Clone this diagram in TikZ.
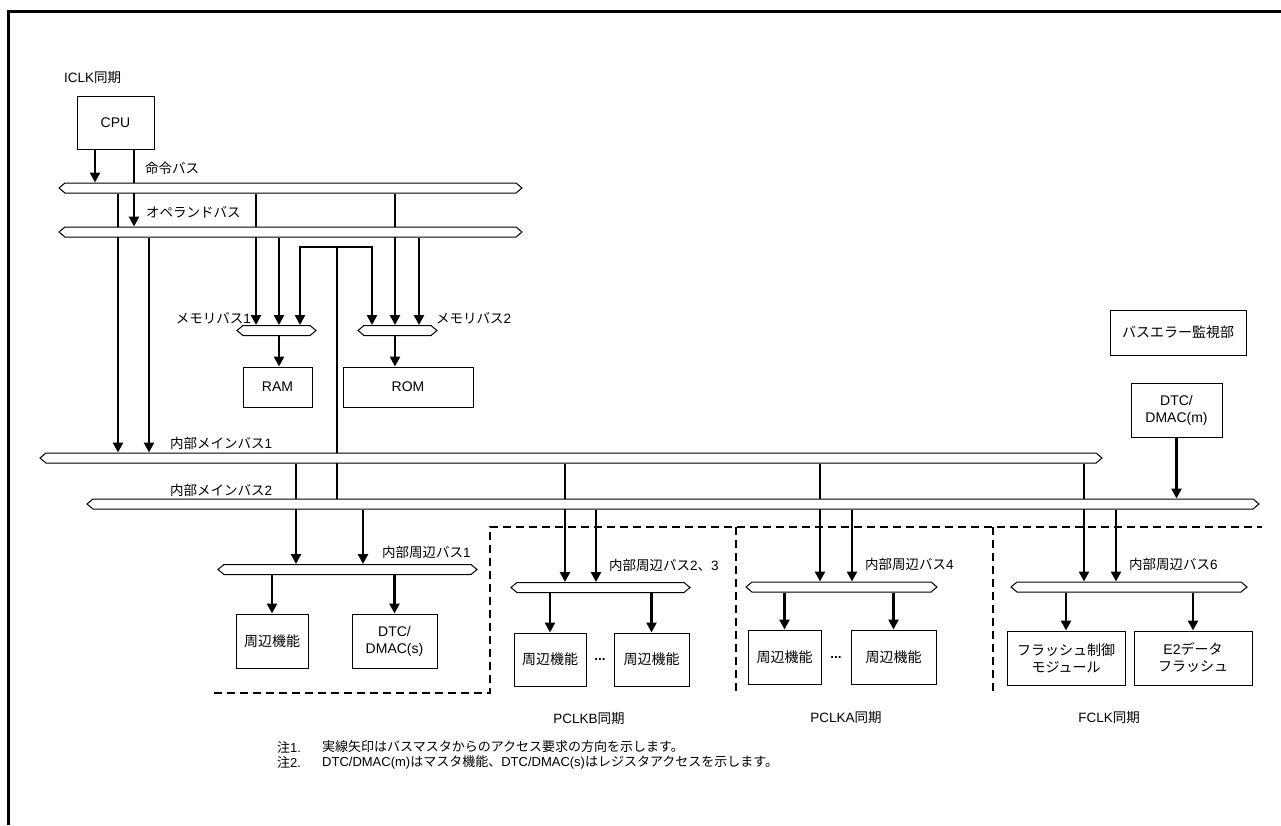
\documentclass[tikz,border=0pt]{standalone}
\usepackage{fontspec}
\setmainfont{Liberation Sans}
\newfontfamily\jpfont{Noto Sans CJK JP}
\newcommand{\ja}[1]{{\jpfont #1}}
\usetikzlibrary{arrows.meta, shapes.symbols}
\pgfdeclarelayer{back}
\pgfsetlayers{back,main}

\begin{document}
\begin{tikzpicture}[
        x=1pt, y=-1pt,
        box/.style={rectangle, draw, line width=1pt, fill=white, inner sep=0pt,
                    align=center, font=\fontsize{14}{17}\selectfont},
        bus/.style={signal, signal to=east and west, signal pointer angle=80,
                    draw, line width=1pt, fill=white, inner sep=0pt, minimum height=10pt},
        arr/.style={-{Triangle[width=10pt,length=10pt]}, line width=2.6pt},
        lbl/.style={inner sep=0pt, font=\fontsize{13.5}{16}\selectfont},
        note/.style={inner sep=0pt, anchor=west, font=\fontsize{13}{15}\selectfont},
        sep/.style={line width=1.8pt, dash pattern=on 8pt off 5pt},
    ]
        \useasboundingbox (0,0) rectangle (1281,825);
        \draw[line width=3pt] (8,825) -- (8,11) -- (1281,11);

        \node[lbl, anchor=west] (iclk) at (64,77) {ICLK\ja{同期}};
        \node[box, minimum width=77pt, minimum height=53pt] (cpu) at (115.5,122.5) {CPU};

        \node[bus, minimum width=463pt] (ibus) at (290.5,188) {};
        \node[lbl, anchor=west] (ibusl) at (145,168) {\ja{命令バス}};
        \node[bus, minimum width=463pt] (obus) at (290.5,232) {};
        \node[lbl, anchor=west] (obusl) at (146,212) {\ja{オペランドバス}};

        \node[bus, minimum width=79pt] (mem1) at (276.5,330.5) {};
        \node[lbl, anchor=east] (mem1l) at (251,318) {\ja{メモリバス}1};
        \node[bus, minimum width=79pt] (mem2) at (397.5,330.5) {};
        \node[lbl, anchor=west] (mem2l) at (436,318) {\ja{メモリバス}2};
        \node[box, minimum width=69pt, minimum height=40pt] (ram) at (277.5,387) {RAM};
        \node[box, minimum width=130pt, minimum height=40pt] (rom) at (408,387) {ROM};

        \node[box, minimum width=136pt, minimum height=45pt] (berr) at (1178,332.5) {\ja{バスエラー監視部}};
        \node[box, minimum width=91pt, minimum height=54pt] (dtcm) at (1176.5,410) {DTC/\\DMAC(m)};

        \node[bus, minimum width=1062pt] (mbus1) at (571,458) {};
        \node[lbl, anchor=west] (mbus1l) at (170,443) {\ja{内部メインバス}1};
        \node[bus, minimum width=1172pt] (mbus2) at (673,504) {};
        \node[lbl, anchor=west] (mbus2l) at (170,490) {\ja{内部メインバス}2};

        \draw[sep] (214,693) -- (490,693) -- (490,527) -- (1262,527);
        \draw[sep] (736,527) -- (736,695);
        \draw[sep] (993,527) -- (993,695);

        \node[bus, minimum width=259pt] (pbus1) at (347.5,569.5) {};
        \node[lbl, anchor=west] (pbus1l) at (382,552) {\ja{内部周辺バス}1};
        \node[box, minimum width=72pt, minimum height=54pt] (per1) at (272,641) {\ja{周辺機能}};
        \node[box, minimum width=85pt, minimum height=54pt] (dtcs) at (394.5,641) {DTC/\\DMAC(s)};

        \node[bus, minimum width=179pt] (pbus23) at (600.5,587.5) {};
        \node[lbl, anchor=west] (pbus23l) at (609,565) {\ja{内部周辺バス}2\ja{、}3};
        \node[box, minimum width=72pt, minimum height=53pt] (perb1) at (550,659.5) {\ja{周辺機能}};
        \node[box, minimum width=75pt, minimum height=53pt] (perb2) at (651.5,659.5) {\ja{周辺機能}};
        \node[lbl] (dotsb) at (600,659) {\bfseries ...};
        \node[lbl] (pclkb) at (589,718) {PCLKB\ja{同期}};

        \node[bus, minimum width=191pt] (pbus4) at (841.5,587) {};
        \node[lbl, anchor=west] (pbus4l) at (865,564) {\ja{内部周辺バス}4};
        \node[box, minimum width=73pt, minimum height=54pt] (pera1) at (784.5,657) {\ja{周辺機能}};
        \node[box, minimum width=85pt, minimum height=54pt] (pera2) at (893.5,657) {\ja{周辺機能}};
        \node[lbl] (dotsa) at (836,657) {\bfseries ...};
        \node[lbl] (pclka) at (846,717) {PCLKA\ja{同期}};

        \node[bus, minimum width=236pt] (pbus6) at (1129,587) {};
        \node[lbl, anchor=west] (pbus6l) at (1129,564) {\ja{内部周辺バス}6};
        \node[box, minimum width=118pt, minimum height=54pt] (fcu) at (1066,658) {\ja{フラッシュ制御}\\\ja{モジュール}};
        \node[box, minimum width=118pt, minimum height=54pt] (e2) at (1193,658) {E2\ja{データ}\\\ja{フラッシュ}};
        \node[lbl] (fclk) at (1109,717) {FCLK\ja{同期}};

        \node[note] (n1) at (277,747) {\ja{注}1.};
        \node[note] (n1t) at (322,747) {\ja{実線矢印はバスマスタからのアクセス要求の方向を示します。}};
        \node[note] (n2) at (277,762) {\ja{注}2.};
        \node[note] (n2t) at (322,762) {DTC/DMAC(m)\ja{はマスタ機能、}DTC/DMAC(s)\ja{はレジスタアクセスを示します。}};

        \coordinate (loop) at (337,247);

        \begin{pgfonlayer}{back}
        \draw[arr] (cpu.south -| 95,0) -- (ibus.north -| 95,0);
        \draw[arr] (cpu.south -| 134,0) -- (obus.north -| 134,0);
        \draw[arr] (ibus.south -| 118,0) -- (mbus1.north -| 118,0);
        \draw[arr] (obus.south -| 149,0) -- (mbus1.north -| 149,0);
        \draw[arr] (ibus.south -| 256,0) -- (mem1.north -| 256,0);
        \draw[arr] (obus.south -| 279,0) -- (mem1.north -| 279,0);
        \draw[arr] (ibus.south -| 395,0) -- (mem2.north -| 395,0);
        \draw[arr] (obus.south -| 419,0) -- (mem2.north -| 419,0);
        \draw[arr] (mbus2.north -| loop) -- (loop) -| (mem1.north -| 300,0);
        \draw[arr] (loop) -| (mem2.north -| 372,0);
        \draw[arr] (mem1.south -| 279,0) -- (ram.north -| 279,0);
        \draw[arr] (mem2.south -| 395,0) -- (rom.north -| 395,0);
        \draw[arr] (dtcm) -- (mbus2.north -| dtcm);

        \draw[arr] (mbus1.south -| 296,0) -- (pbus1.north -| 296,0);
        \draw[arr] (mbus2.south -| 363,0) -- (pbus1.north -| 363,0);
        \draw[arr] (mbus1.south -| 565,0) -- (pbus23.north -| 565,0);
        \draw[arr] (mbus2.south -| 596,0) -- (pbus23.north -| 596,0);
        \draw[arr] (mbus1.south -| 820,0) -- (pbus4.north -| 820,0);
        \draw[arr] (mbus2.south -| 852,0) -- (pbus4.north -| 852,0);
        \draw[arr] (mbus1.south -| 1084,0) -- (pbus6.north -| 1084,0);
        \draw[arr] (mbus2.south -| 1116,0) -- (pbus6.north -| 1116,0);

        \draw[arr] (pbus1.south -| per1) -- (per1);
        \draw[arr] (pbus1.south -| dtcs) -- (dtcs);
        \draw[arr] (pbus23.south -| perb1) -- (perb1);
        \draw[arr] (pbus23.south -| perb2) -- (perb2);
        \draw[arr] (pbus4.south -| pera1) -- (pera1);
        \draw[arr] (pbus4.south -| pera2) -- (pera2);
        \draw[arr] (pbus6.south -| fcu) -- (fcu);
        \draw[arr] (pbus6.south -| e2) -- (e2);
        \end{pgfonlayer}
    \end{tikzpicture}
\end{document}
